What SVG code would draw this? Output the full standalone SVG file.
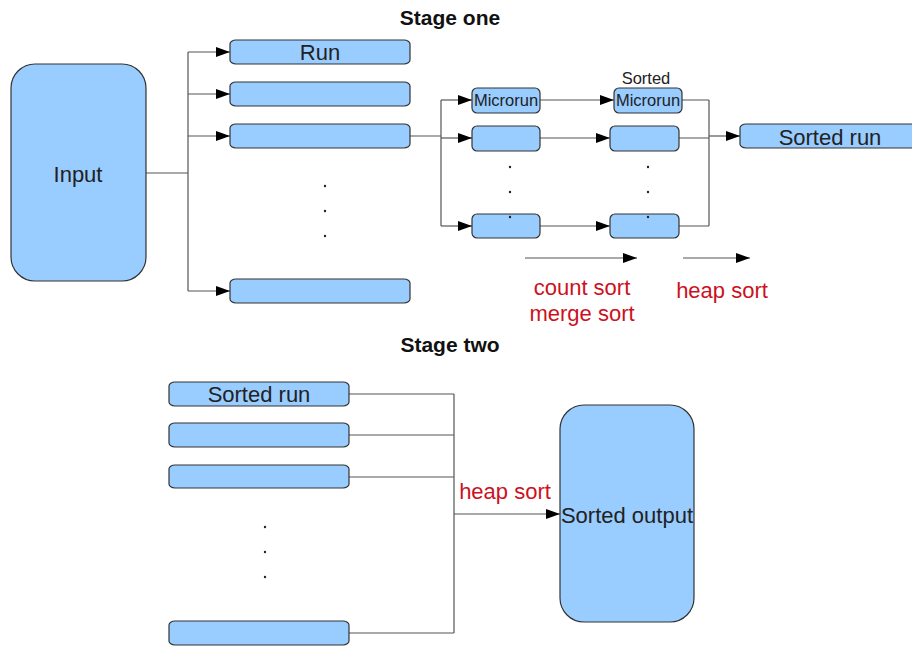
<svg xmlns="http://www.w3.org/2000/svg" width="912" height="646" viewBox="0 0 912 646">
  <defs>
    <marker id="arrow" viewBox="0 0 14 10" refX="14" refY="5" markerWidth="14" markerHeight="10" markerUnits="userSpaceOnUse" orient="auto">
      <path d="M0,0 L14,5 L0,10 Z" fill="#000"/>
    </marker>
  </defs>
  <style>
    .box { fill: #99ccff; stroke: #333; stroke-width: 1.2; }
    .wire { fill: none; stroke: #555; stroke-width: 1.2; }
    .arr { marker-end: url(#arrow); }
    .lbl { font-family: "Liberation Sans", Arial, sans-serif; fill: #222; text-anchor: middle; }
    .big { font-size: 22px; }
    .small { font-size: 16.5px; }
    .title { font-size: 21px; font-weight: bold; fill: #111; }
    .red { font-family: "Liberation Sans", Arial, sans-serif; font-size: 22px; fill: #cc1122; text-anchor: middle; }
    .dot { fill: #222; }
  </style>
  <rect width="912" height="646" fill="#fff"/>

  <text class="lbl title" x="450" y="25">Stage one</text>
  <text class="lbl title" x="450" y="352">Stage two</text>

  <!-- connectors -->
  <g id="connectors">
    <!-- input fan-out -->
    <path class="wire" d="M146,173 H188 M188,52 V291"/>
    <path class="wire arr" d="M188,52 H230"/>
    <path class="wire arr" d="M188,94 H230"/>
    <path class="wire arr" d="M188,136 H230"/>
    <path class="wire arr" d="M188,291 H230"/>
    <!-- run split into microruns -->
    <path class="wire" d="M410,136 H441 M441,100 V226"/>
    <path class="wire arr" d="M441,100 H472"/>
    <path class="wire arr" d="M441,138 H472"/>
    <path class="wire arr" d="M441,226 H472"/>
    <!-- microrun sorting -->
    <path class="wire arr" d="M540,100 H614"/>
    <path class="wire arr" d="M540,138 H610"/>
    <path class="wire arr" d="M540,226 H610"/>
    <!-- merge into sorted run -->
    <path class="wire" d="M682,100 H709 M679,138 H709 M679,226 H709 M709,100 V226"/>
    <path class="wire arr" d="M709,136 H740"/>
    <!-- legend arrows -->
    <path class="wire arr" d="M525,258 H637"/>
    <path class="wire arr" d="M683,258 H750"/>
    <!-- stage two merge -->
    <path class="wire" d="M349,394 H454 M349,435 H454 M349,477 H454 M349,633 H454 M454,394 V633"/>
    <path class="wire arr" d="M454,514 H560"/>
  </g>

  <g id="input">
    <rect class="box" x="11" y="64" width="135" height="217" rx="24" ry="24"/>
    <text class="lbl big" x="78" y="182">Input</text>
  </g>

  <g id="run1">
    <rect class="box" x="230" y="40" width="180" height="24" rx="6" ry="4"/>
    <text class="lbl big" x="320" y="60">Run</text>
  </g>
  <g id="run2"><rect class="box" x="230" y="82" width="180" height="24" rx="6" ry="4"/></g>
  <g id="run3"><rect class="box" x="230" y="124" width="180" height="24" rx="6" ry="4"/></g>
  <g id="run-dots">
    <circle class="dot" cx="325" cy="186" r="1.2"/>
    <circle class="dot" cx="325" cy="211" r="1.2"/>
    <circle class="dot" cx="325" cy="236" r="1.2"/>
  </g>
  <g id="runN"><rect class="box" x="230" y="279" width="180" height="24" rx="6" ry="4"/></g>

  <g id="microrun1">
    <rect class="box" x="472" y="88" width="68" height="25" rx="5" ry="5"/>
    <text class="lbl small" x="506" y="106">Microrun</text>
  </g>
  <g id="microrun2"><rect class="box" x="472" y="126" width="68" height="25" rx="5" ry="5"/></g>
  <g id="microrunN"><rect class="box" x="472" y="214" width="68" height="24" rx="5" ry="5"/></g>
  <g id="microrun-dots">
    <circle class="dot" cx="510" cy="167" r="1.2"/>
    <circle class="dot" cx="510" cy="192" r="1.2"/>
    <circle class="dot" cx="510" cy="217" r="1.2"/>
  </g>

  <g id="sorted-microrun1">
    <text class="lbl small" x="646" y="84">Sorted</text>
    <rect class="box" x="614" y="88" width="68" height="25" rx="5" ry="5"/>
    <text class="lbl small" x="648" y="106">Microrun</text>
  </g>
  <g id="sorted-microrun2"><rect class="box" x="610" y="126" width="69" height="25" rx="5" ry="5"/></g>
  <g id="sorted-microrunN"><rect class="box" x="610" y="214" width="69" height="24" rx="5" ry="5"/></g>
  <g id="sorted-microrun-dots">
    <circle class="dot" cx="648" cy="167" r="1.2"/>
    <circle class="dot" cx="648" cy="192" r="1.2"/>
    <circle class="dot" cx="648" cy="217" r="1.2"/>
  </g>

  <g id="sorted-run">
    <rect class="box" x="740" y="124" width="180" height="24" rx="6" ry="4"/>
    <text class="lbl big" x="830" y="145">Sorted run</text>
  </g>

  <g id="legend">
    <text class="red" x="582" y="295">count sort</text>
    <text class="red" x="582" y="321">merge sort</text>
    <text class="red" x="722" y="298">heap sort</text>
  </g>

  <g id="s2-run1">
    <rect class="box" x="169" y="382" width="180" height="24" rx="6" ry="4"/>
    <text class="lbl big" x="259" y="402">Sorted run</text>
  </g>
  <g id="s2-run2"><rect class="box" x="169" y="423" width="180" height="24" rx="6" ry="4"/></g>
  <g id="s2-run3"><rect class="box" x="169" y="465" width="180" height="23" rx="6" ry="4"/></g>
  <g id="s2-dots">
    <circle class="dot" cx="265" cy="527" r="1.2"/>
    <circle class="dot" cx="265" cy="552" r="1.2"/>
    <circle class="dot" cx="265" cy="577" r="1.2"/>
  </g>
  <g id="s2-runN"><rect class="box" x="169" y="621" width="180" height="24" rx="6" ry="4"/></g>

  <text class="red" x="505" y="499">heap sort</text>

  <g id="sorted-output">
    <rect class="box" x="560" y="405" width="134" height="217" rx="24" ry="24"/>
    <text class="lbl big" x="627" y="523">Sorted output</text>
  </g>
</svg>
